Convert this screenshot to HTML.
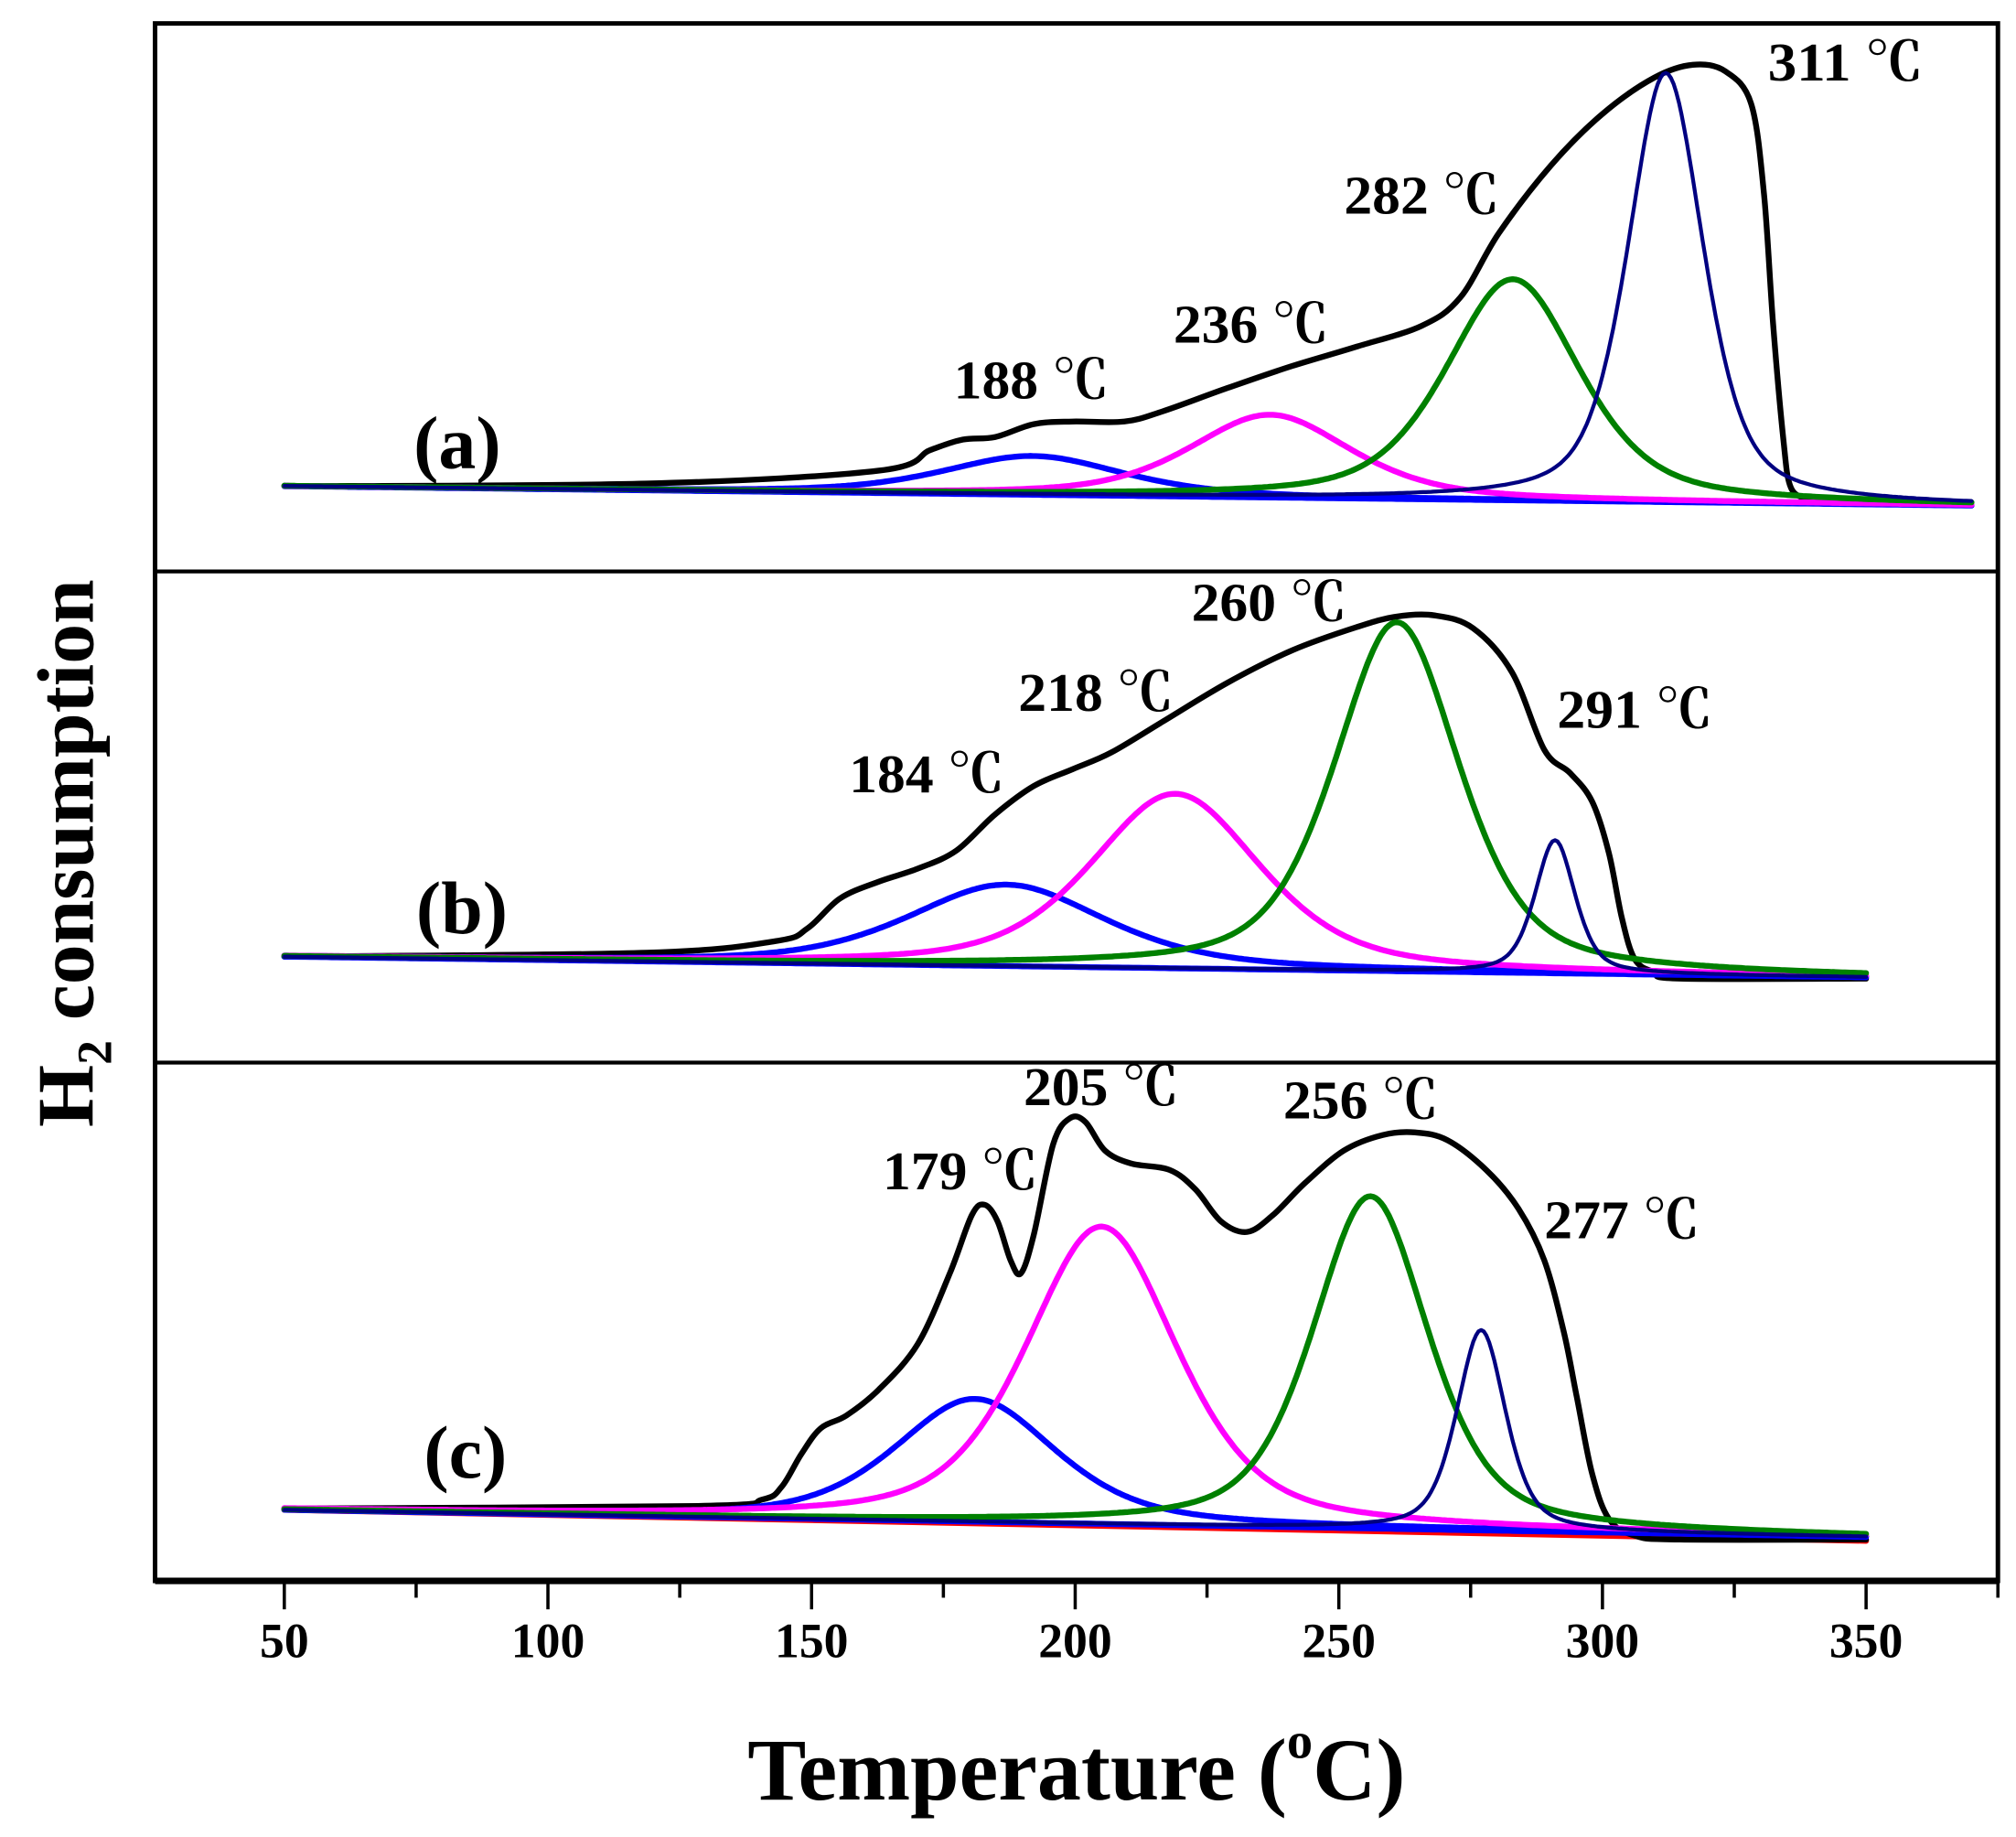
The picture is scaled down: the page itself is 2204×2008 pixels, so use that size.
<!DOCTYPE html>
<html><head><meta charset="utf-8"><style>
html,body{margin:0;padding:0;background:#fff}
svg{display:block}
text{font-family:"Liberation Serif","Noto Serif CJK SC",serif;font-weight:bold;fill:#000}
</style></head><body>
<svg id="s" width="2204" height="2008" viewBox="0 0 1560 1421" xmlns="http://www.w3.org/2000/svg">
<rect x="0" y="0" width="1560" height="1421" fill="#fff"/>
<g id="curves" fill="none" stroke-linejoin="round" stroke-linecap="round"></g>
<g stroke="#000" fill="none">
<rect x="120" y="18" width="1426" height="1205" stroke-width="3.5"/>
<line x1="120" y1="442" x2="1546" y2="442" stroke-width="3"/>
<line x1="120" y1="822" x2="1546" y2="822" stroke-width="3"/>
<line x1="120" y1="1223" x2="1546" y2="1223" stroke-width="5"/>
<g id="ticks" stroke-width="2.5"></g>
</g>
<g font-size="38" text-anchor="middle">
<text x="220" y="1282">50</text><text x="424" y="1282">100</text><text x="628" y="1282">150</text>
<text x="832" y="1282">200</text><text x="1036" y="1282">250</text><text x="1240" y="1282">300</text><text x="1444" y="1282">350</text>
</g>
<text x="833" y="1392" font-size="68" text-anchor="middle">Temperature (<tspan font-size="40" dy="-32">o</tspan><tspan dy="32">C)</tspan></text>
<text transform="translate(72,660) rotate(-90)" font-size="62" text-anchor="middle">H<tspan font-size="38" dy="14">2</tspan><tspan dy="-14"> consumption</tspan></text>
<g font-size="42">
<text x="1368" y="62" textLength="120" lengthAdjust="spacingAndGlyphs">311 ℃</text>
<text x="1040" y="165" textLength="120" lengthAdjust="spacingAndGlyphs">282 ℃</text>
<text x="908" y="265" textLength="120" lengthAdjust="spacingAndGlyphs">236 ℃</text>
<text x="738" y="308" textLength="120" lengthAdjust="spacingAndGlyphs">188 ℃</text>
<text x="922" y="480" textLength="120" lengthAdjust="spacingAndGlyphs">260 ℃</text>
<text x="788" y="550" textLength="120" lengthAdjust="spacingAndGlyphs">218 ℃</text>
<text x="657" y="613" textLength="120" lengthAdjust="spacingAndGlyphs">184 ℃</text>
<text x="1205" y="563" textLength="120" lengthAdjust="spacingAndGlyphs">291 ℃</text>
<text x="792" y="855" textLength="120" lengthAdjust="spacingAndGlyphs">205 ℃</text>
<text x="683" y="920" textLength="120" lengthAdjust="spacingAndGlyphs">179 ℃</text>
<text x="993" y="865" textLength="120" lengthAdjust="spacingAndGlyphs">256 ℃</text>
<text x="1195" y="958" textLength="120" lengthAdjust="spacingAndGlyphs">277 ℃</text>
</g>
<g font-size="58">
<text x="320" y="362">(a)</text>
<text x="322" y="722">(b)</text>
<text x="328" y="1143">(c)</text>
</g>
</svg>
<script>
var NS="http://www.w3.org/2000/svg";
function X(T){return 220+(T-50)*4.08;}
var t=document.getElementById("ticks");
for(var T=25;T<=375;T+=25){var x=X(T);if(x<119||x>1547)continue;var l=document.createElementNS(NS,"line");
l.setAttribute("x1",x);l.setAttribute("x2",x);l.setAttribute("y1",1223);l.setAttribute("y2",T%50==0?1245:1236);t.appendChild(l);}
var g=document.getElementById("curves");
function add(d,c,w){var p=document.createElementNS(NS,"path");p.setAttribute("d",d);p.setAttribute("stroke",c);p.setAttribute("stroke-width",w);g.appendChild(p);}
function pv(T,c,a,w){var u=(T-c)/w;return a*(0.5*Math.exp(-Math.LN2*u*u)+0.5/(1+u*u));}
function panel(b0,b1,Tend,peaks){
  function base(T){return b0+(b1-b0)*(T-50)/(Tend-50);}
  var cols=["#0000ff","#ff00ff","#008000","#000080"];
  var dB="";for(var T=50;T<=Tend;T+=1){dB+=(T==50?"M":"L")+X(T).toFixed(1)+","+base(T).toFixed(1);}
  add(dB,"#0000ff",4.5);
  for(var i=0;i<4;i++){var p=peaks[i];var d="";
    for(var T=50;T<=Tend;T+=0.5){var y=base(T)-pv(T,p[0],p[1],p[2]);d+=(T==50?"M":"L")+X(T).toFixed(1)+","+y.toFixed(1);}
    add(d,cols[i],i==3?3:4.5);}
}
function poly(P){var d="M"+P[0][0]+","+P[0][1];
 for(var i=0;i<P.length-1;i++){var p0=P[Math.max(0,i-1)],p1=P[i],p2=P[i+1],p3=P[Math.min(P.length-1,i+2)];
  var c1x=p1[0]+(p2[0]-p0[0])/6,c1y=p1[1]+(p2[1]-p0[1])/6,c2x=p2[0]-(p3[0]-p1[0])/6,c2y=p2[1]-(p3[1]-p1[1])/6;
  d+="C"+c1x.toFixed(1)+","+c1y.toFixed(1)+" "+c2x.toFixed(1)+","+c2y.toFixed(1)+" "+p2[0]+","+p2[1];}
 add(d,"#000",4.5);}
poly([[220,376],[500,374],[680,364],[720,348],[745,340],[770,338],[800,328],[830,326],[870,326],[900,318],[950,300],[1000,283],[1050,268],[1100,252],[1130,230],[1160,180],[1200,128],[1240,88],[1280,60],[1310,50],[1335,55],[1355,80],[1365,150],[1372,250],[1380,340],[1385,375],[1395,385],[1410,387]]);
panel(376,391,370,[[192,30,20],[237,64,18],[283,171,15],[312,332,8.5]]);
poly([[220,740],[500,737],[600,728],[625,718],[650,695],[680,682],[710,672],[740,658],[770,630],[800,608],[830,595],[860,582],[900,558],[950,528],[1000,503],[1050,485],[1080,477],[1110,476],[1140,486],[1170,520],[1195,580],[1215,598],[1232,620],[1245,660],[1255,710],[1265,742],[1280,752],[1300,757],[1444,757]]);
panel(740,756,350,[[187,63,22],[219,135,19],[261,270,14],[291,103,4.5]]);
add("M220,1168L1444,1192","#ff0000",4.5);
poly([[220,1167],[540,1165],[590,1160],[605,1150],[620,1125],[635,1105],[655,1095],[680,1075],[710,1040],[735,985],[752,940],[762,932],[772,945],[782,975],[790,985],[800,955],[815,885],[828,865],[840,868],[855,890],[875,900],[905,905],[925,920],[945,945],[965,953],[985,940],[1010,915],[1040,890],[1070,878],[1095,876],[1120,882],[1150,905],[1175,935],[1195,975],[1210,1030],[1220,1080],[1232,1140],[1245,1175],[1265,1188],[1300,1191],[1444,1191]]);
panel(1168,1189,350,[[181,95,18],[205,230,17],[256,257,13],[277,155,5.5]]);
</script>
</body></html>
